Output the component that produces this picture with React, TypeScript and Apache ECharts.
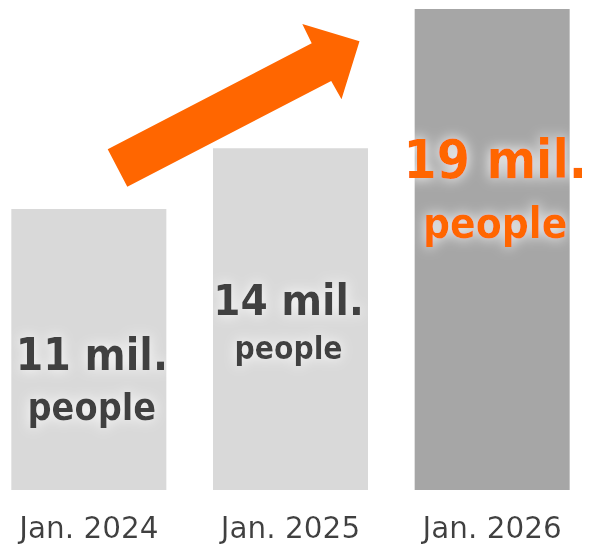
import React, { useEffect, useRef } from "react";
import * as echarts from "echarts";

const categories = ["Jan. 2024", "Jan. 2025", "Jan. 2026"];
const barValues = [11.1, 13.5, 19];
const valueLabels = ["11 mil.", "14 mil.", "19 mil."];
const unitLabels = ["people", "people", "people"];

const barColors = ["#d9d9d9", "#d9d9d9", "#a6a6a6"];
const labelColors = ["#404040", "#404040", "#ff6600"];
const labelSizes = [
  { a: 44, b: 37.5, lh: 52.8, off: [3, 31.4] },
  { a: 43.5, b: 31.5, lh: 48.3, off: [-2, 4.65] },
  { a: 53, b: 42, lh: 64.4, off: [3, -58.3] },
];

const SHIFT = 12;
const arrowPoints = [
  [107.7, 149.3],
  [311.7, 43.3],
  [302.3, 24],
  [359.5, 41.2],
  [341.5, 99.2],
  [331.2, 81],
  [127.3, 186.7],
];

const LABEL_FONT = "'DejaVu Sans Condensed', 'DejaVu Sans', sans-serif";

export default function App() {
  const ref = useRef<HTMLDivElement>(null);
  useEffect(() => {
    document.body.style.margin = "0";
    const chart = echarts.init(ref.current!, undefined, { renderer: "svg" });
    const data = barValues.map((v, i) => {
      const s = labelSizes[i];
      const common = {
        fontFamily: LABEL_FONT,
        fontWeight: "bold",
        color: labelColors[i],
        textShadowColor: "#ffffff",
        textShadowBlur: 13,
        align: "center",
        lineHeight: s.lh,
      };
      return {
        value: v,
        itemStyle: { color: barColors[i] },
        label: {
          show: true,
          position: "inside",
          offset: s.off,
          formatter: `{a|${valueLabels[i]}}\n{b|${unitLabels[i]}}`,
          rich: {
            a: { ...common, fontSize: s.a },
            b: { ...common, fontSize: s.b },
          },
        },
      };
    });
    chart.setOption({
      animation: false,
      grid: { left: 0, right: 0, top: 9, bottom: 56, containLabel: false },
      xAxis: {
        type: "category",
        data: categories,
        axisLine: { show: false },
        axisTick: { show: false },
        axisLabel: {
          fontFamily: "'DejaVu Sans', sans-serif",
          fontSize: 29.5,
          lineHeight: 26,
          color: "#404040",
          margin: 25,
          textShadowColor: "#ffffff",
          textShadowBlur: 4,
        },
      },
      yAxis: { type: "value", min: 0, max: 19, show: false, splitLine: { show: false } },
      series: [
        {
          type: "bar",
          barWidth: 155,
          data,
        },
      ],
      graphic: [
        {
          type: "group",
          x: SHIFT,
          y: 0,
          children: [
            {
              type: "polygon",
              shape: { points: arrowPoints },
              style: { fill: "#ff6600" },
            },
          ],
        },
      ],
    });
    return () => chart.dispose();
  }, []);
  return (
    <div style={{ width: 592, height: 546, overflow: "hidden", position: "relative" }}>
      <div ref={ref} style={{ position: "absolute", left: -SHIFT, top: 0, width: 605, height: 546 }} />
    </div>
  );
}
